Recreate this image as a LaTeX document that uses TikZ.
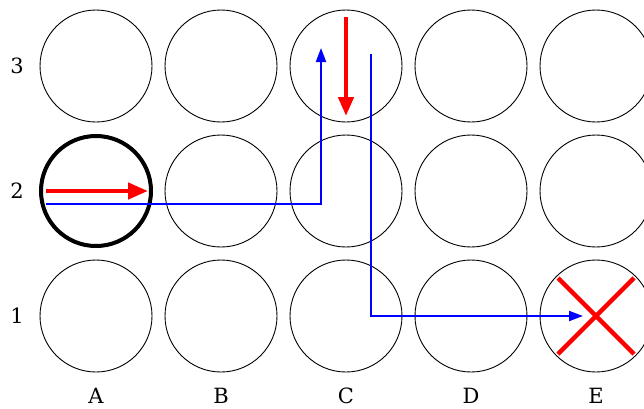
\documentclass[tikz,border=0pt]{standalone}
\usepackage{fontspec}
\setmainfont{DejaVu Serif}
\usetikzlibrary{arrows.meta}
\begin{document}
\begin{tikzpicture}[x=1pt,y=-1pt,
  cell/.style={circle,draw,line width=0.9pt,minimum size=112pt,inner sep=0pt},
  startcell/.style={cell,line width=4pt,minimum size=110pt},
  lbl/.style={font=\fontsize{21}{24}\selectfont},
  redarrow/.style={draw=red,line width=4.5pt,-{Triangle[length=20pt,width=16pt]}},
  bluearrow/.style={draw=blue,line width=2pt,-{Triangle[length=14pt,width=10pt]}},
  cross/.style={draw=red,line width=4.5pt}]
\clip (0,0) rectangle (644,408);
\useasboundingbox (0,0) rectangle (644,408);
\foreach \c [count=\i from 0] in {A,B,C,D,E} {
  \foreach \r [count=\j from 0] in {3,2,1} {
    \node[cell] (c\c\r) at (96+125*\i,66+125*\j) {};
  }
  \node[lbl] (col\c) at (96+125*\i,396) {\c};
}
\foreach \r [count=\j from 0] in {3,2,1} {
  \node[lbl] (row\r) at (17,66+125*\j) {\r};
}
\node[startcell] (start) at (cA2) {};
% red arrows
\coordinate (ra1) at (46,191);
\coordinate (ra2) at (148,191);
\draw[redarrow] (ra1) -- (ra2);
\coordinate (rd1) at (346,17);
\coordinate (rd2) at (346,116);
\draw[redarrow,-{Triangle[length=19pt,width=15pt]}] (rd1) -- (rd2);
% blue paths
\coordinate (b1s) at (46,204);
\coordinate (b1e) at (321,48);
\draw[bluearrow] (b1s) -| (b1e);
\coordinate (b2s) at (371,54);
\coordinate (b2e) at (583,316);
\draw[bluearrow] (b2s) |- (b2e);
% cross
\coordinate (x1) at (558,278);
\coordinate (x2) at (634,354);
\coordinate (x3) at (558,354);
\coordinate (x4) at (634,278);
\draw[cross] (x1) -- (x2);
\draw[cross] (x3) -- (x4);
\end{tikzpicture}
\end{document}
